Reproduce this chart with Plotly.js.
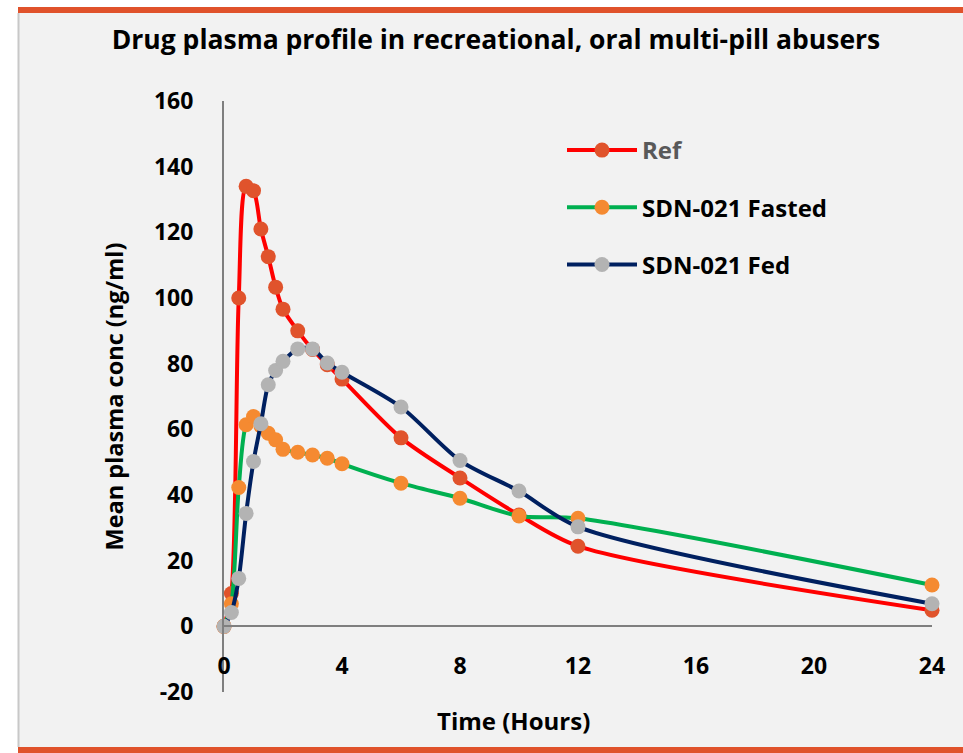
<!DOCTYPE html>
<html>
<head>
<meta charset="utf-8">
<script src="https://cdn.plot.ly/plotly-3.0.1.min.js"></script>
<style>html,body{margin:0;padding:0;background:#fff;}#chart{width:963px;height:753px;}</style>
</head>
<body>
<div id="chart"></div>
<script>
// Data
const timeHours = [0, 0.25, 0.5, 0.75, 1, 1.25, 1.5, 1.75, 2, 2.5, 3, 3.5, 4, 6, 8, 10, 12, 24];
const refConc =    [0, 10, 100, 134, 132.7, 121, 112.6, 103.3, 96.6, 90, 84.3, 79.7, 75.3, 57.4, 45.2, 33.9, 24.4, 4.9];
const fastedConc = [0, 6.9, 42.3, 61.4, 63.9, 61, 58.8, 56.8, 53.9, 53, 52.2, 51.2, 49.5, 43.6, 39, 33.6, 32.9, 12.6];
const fedConc =    [0, 4.2, 14.6, 34.4, 50.2, 61.7, 73.6, 77.9, 80.7, 84.5, 84.5, 80.2, 77.4, 66.8, 50.5, 41.2, 30.3, 6.9];
const seriesNames = ['<span style="color:#595959">Ref</span>', 'SDN-021 Fasted', 'SDN-021 Fed'];
const xTicks = [0, 4, 8, 12, 16, 20, 24];
const yTicks = [-20, 0, 20, 40, 60, 80, 100, 120, 140, 160];
const yTickLabels = ['-20', '0', '20', '40', '60', '80', '100', '120', '140', '160'];

const FONT = '"Open Sans", "Noto Sans", sans-serif';
const W = 963, H = 753;
const L = 224, R = 31, T = 101, B = 61;
const pw = W - L - R, ph = H - T - B;
const px = v => (v - L) / pw;          // pixel x -> paper fraction
const py = v => (H - B - v) / ph;      // pixel y -> paper fraction

function mk(y, name, lineColor, markerColor, grp) {
  return {
    x: timeHours, y: y, name: name, type: 'scatter', mode: 'lines+markers',
    line: {color: lineColor, width: 4, shape: 'spline', smoothing: 0.8},
    marker: {color: markerColor, size: 15, line: {width: 0}},
    cliponaxis: false, legendgroup: grp
  };
}

const data = [
  mk(refConc, seriesNames[0], '#FF0000', '#E0532C', 'a'),
  mk(fastedConc, seriesNames[1], '#00B050', '#F58A31', 'b'),
  mk(fedConc, seriesNames[2], '#002060', '#B3B3B3', 'c')
];

const layout = {
  width: W, height: H,
  margin: {l: L, r: R, t: T, b: B},
  paper_bgcolor: '#FFFFFF',
  plot_bgcolor: 'rgba(0,0,0,0)',
  font: {family: FONT, color: '#000'},
  title: {
    text: '<b>Drug plasma profile in recreational, oral multi-pill abusers</b>',
    font: {family: FONT, size: 26.5, color: '#000'},
    xref: 'container', x: 496 / W, xanchor: 'center',
    yref: 'container', y: 1 - 40 / H, yanchor: 'middle'
  },
  xaxis: {
    range: [0, 24], tickvals: xTicks, ticktext: xTicks.map(String),
    anchor: 'free', position: 20 / 180,
    showline: true, linecolor: '#7F7F7F', linewidth: 2,
    showgrid: false, zeroline: false,
    ticks: 'outside', ticklen: 19, tickcolor: 'rgba(0,0,0,0)',
    tickfont: {family: FONT, size: 23, color: '#000', weight: 'bold'}
  },
  yaxis: {
    range: [-20, 160], tickvals: yTicks, ticktext: yTickLabels,
    showline: true, linecolor: '#7F7F7F', linewidth: 2,
    showgrid: false, zeroline: false,
    ticks: 'outside', ticklen: 24, tickcolor: 'rgba(0,0,0,0)',
    tickfont: {family: FONT, size: 23, color: '#000', weight: 'bold'},
    title: {text: '<b>Mean plasma conc (ng/ml)</b>', font: {family: FONT, size: 23.5, color: '#000'}, standoff: 24}
  },
  legend: {
    x: px(562), xanchor: 'left', y: py(128), yanchor: 'top',
    bgcolor: 'rgba(0,0,0,0)', borderwidth: 0,
    font: {family: FONT, size: 24, color: '#000', weight: 'bold'},
    tracegroupgap: 23, itemwidth: 70
  },
  annotations: [{
    text: '<b>Time (Hours)</b>', xref: 'paper', yref: 'paper',
    x: px(513), y: py(720), xanchor: 'center', yanchor: 'middle',
    showarrow: false, font: {family: FONT, size: 24, color: '#000'}
  }],
  shapes: [
    {type: 'rect', xref: 'paper', yref: 'paper', x0: px(18), x1: px(963), y0: py(7), y1: py(753), fillcolor: '#F2F2F2', line: {width: 0}, layer: 'below'},
    {type: 'rect', xref: 'paper', yref: 'paper', x0: px(18), x1: px(963), y0: py(7), y1: py(13), fillcolor: '#E0522B', line: {width: 0}, layer: 'below'},
    {type: 'rect', xref: 'paper', yref: 'paper', x0: px(18), x1: px(963), y0: py(747), y1: py(753), fillcolor: '#E0522B', line: {width: 0}, layer: 'below'},
    {type: 'line', xref: 'paper', yref: 'paper', x0: px(18.5), x1: px(18.5), y0: py(13), y1: py(747), line: {color: '#C8C8C8', width: 2}, layer: 'below'}
  ]
};

Plotly.newPlot('chart', data, layout, {displayModeBar: false, staticPlot: true});
</script>
</body>
</html>
